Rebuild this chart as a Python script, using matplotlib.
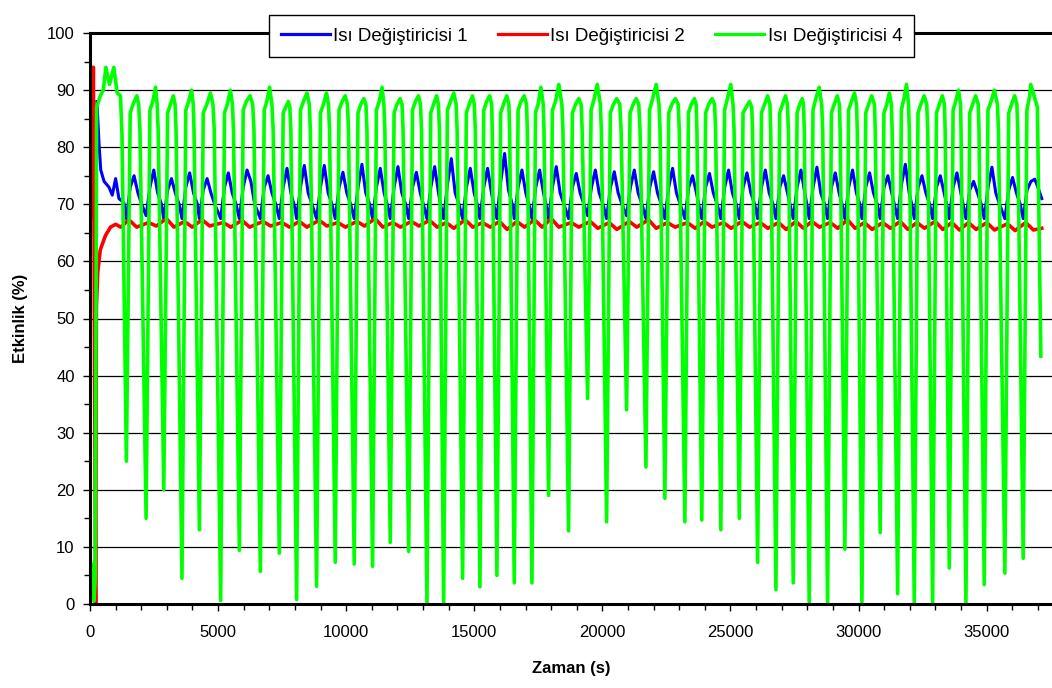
import matplotlib
matplotlib.use("Agg")
import matplotlib.pyplot as plt
from matplotlib.ticker import MultipleLocator

plt.rcParams['font.family'] = ['Liberation Sans', 'DejaVu Sans']

# Isı Değiştiricisi 4 (green) - one row per cycle: dip, rise, plateau, fall start
green_t = [0, 40, 100, 150, 200, 260, 400, 520, 620, 760, 930, 1060, 1190, 1250,
           1420, 1570, 1680, 1830, 1900, 1950,
           2190, 2340, 2450, 2560, 2620, 2660,
           2880, 3030, 3140, 3250, 3320, 3360,
           3590, 3740, 3850, 3960, 4030, 4060,
           4270, 4420, 4560, 4700, 4800, 4850,
           5100, 5250, 5360, 5480, 5560, 5600,
           5830, 5980, 6100, 6250, 6350, 6400,
           6650, 6800, 6900, 7010, 7100, 7150,
           7390, 7540, 7640, 7740, 7800, 7840,
           8065, 8215, 8330, 8470, 8560, 8600,
           8845, 8995, 9110, 9230, 9310, 9350,
           9573, 9720, 9840, 9960, 10050, 10090,
           10314, 10460, 10570, 10690, 10770, 10810,
           11030, 11180, 11290, 11400, 11470, 11510,
           11720, 11870, 11980, 12100, 12180, 12220,
           12440, 12590, 12700, 12820, 12900, 12940,
           13153, 13300, 13410, 13530, 13600, 13640,
           13803, 13950, 14070, 14200, 14290, 14330,
           14544, 14690, 14800, 14930, 15000, 15040,
           15220, 15370, 15480, 15600, 15680, 15700,
           15883, 16030, 16140, 16270, 16350, 16380,
           16560, 16710, 16820, 16950, 17040, 17070,
           17250, 17390, 17490, 17600, 17690, 17720,
           17900, 18050, 18170, 18300, 18420, 18460,
           18680, 18830, 18950, 19080, 19170, 19210,
           19424, 19560, 19680, 19800, 19920, 19960,
           20165, 20310, 20430, 20560, 20680, 20730,
           20945, 21080, 21200, 21320, 21420, 21470,
           21700, 21840, 21960, 22100, 22210, 22250,
           22440, 22590, 22710, 22850, 22960, 23000,
           23220, 23360, 23470, 23590, 23660, 23690,
           23880, 24030, 24150, 24280, 24380, 24420,
           24624, 24770, 24880, 25010, 25100, 25140,
           25344, 25490, 25610, 25740, 25830, 25860,
           26060, 26210, 26330, 26450, 26540, 26570,
           26774, 26920, 27030, 27150, 27220, 27260,
           27450, 27600, 27700, 27800, 27850, 27880,
           28074, 28220, 28330, 28460, 28560, 28600,
           28790, 28940, 29050, 29170, 29250, 29280,
           29465, 29610, 29720, 29840, 29920, 29950,
           30130, 30280, 30390, 30510, 30620, 30650,
           30843, 30990, 31100, 31200, 31280, 31310,
           31525, 31670, 31770, 31870, 31950, 31980,
           32175, 32320, 32430, 32560, 32660, 32700,
           32890, 33040, 33150, 33270, 33350, 33380,
           33540, 33690, 33790, 33900, 33980, 34000,
           34190, 34340, 34450, 34570, 34670, 34700,
           34905, 35050, 35170, 35300, 35420, 35460,
           35710, 35860, 35970, 36090, 36180, 36210,
           36426, 36570, 36680, 36720, 36850, 36980, 37115]
green_y = [2, 6, 7, 0.5, 4, 87, 89, 90, 94, 91, 94, 89.5, 89, 82,
           25, 86, 87.5, 89, 87.5, 83,
           15, 86.5, 88, 90.5, 87.5, 83,
           20, 86, 87.5, 89, 87.5, 83,
           4.5, 86.5, 88, 90, 87.5, 83,
           13, 86, 87.5, 89.5, 87.5, 83,
           0.6, 86, 87.5, 90, 87.5, 83,
           9.4, 86.5, 88, 89, 87.5, 83,
           5.7, 86.5, 88, 90.5, 87.5, 83,
           8.9, 86, 87, 88, 87, 83,
           0.8, 86.5, 88, 89.5, 87.5, 83,
           3.1, 86, 87.5, 89.5, 87.5, 83,
           7.3, 86.5, 88, 89, 87.5, 83,
           7, 86, 87.5, 88.5, 87.5, 83,
           6.6, 86.5, 88, 90.5, 87.5, 83,
           10.8, 86, 87.5, 88.5, 87.5, 83,
           9.2, 86.5, 88, 89, 87.5, 83,
           0, 86, 87.5, 89, 87.5, 83,
           0, 86.5, 88, 89.5, 87.5, 83,
           4.5, 86, 87.5, 89, 87.5, 83,
           3, 86.5, 88, 89, 87.5, 83,
           5, 86, 87.5, 89, 87.5, 83,
           3.7, 86.5, 88, 89, 87.5, 83,
           3.7, 86, 87.5, 90.5, 87.5, 83,
           19, 86.5, 88, 91, 87.5, 83,
           12.8, 86, 87.5, 88.5, 87.5, 83,
           36, 86.5, 88.5, 91, 87.5, 83,
           14.4, 86, 87.5, 88.5, 87.5, 83,
           34, 86, 87.5, 88.5, 87.5, 83,
           24, 86.5, 88.5, 91, 87.5, 83,
           18.5, 86, 87.5, 88.5, 87.5, 83,
           14.4, 86, 87.5, 88.5, 87.5, 83,
           14.7, 86, 87.5, 88.5, 87.5, 83,
           13, 86.5, 88.5, 91, 87.5, 83,
           15, 86, 87, 88, 87, 83,
           7.3, 86, 87.5, 89, 87.5, 83,
           2.5, 86, 87.5, 89, 87.5, 83,
           3.7, 86, 87.5, 88.5, 87.5, 83,
           0, 86.5, 88.5, 90.5, 87.5, 83,
           0, 86, 87.5, 89, 87.5, 83,
           9.6, 86.5, 88, 89.5, 87.5, 83,
           0, 86, 87.5, 89, 87.5, 83,
           12.5, 86, 87.5, 89.5, 87.5, 83,
           1.8, 86.5, 88.5, 91, 87.5, 83,
           0, 86, 87.5, 89, 87.5, 83,
           0, 86, 87.5, 89, 87.5, 83,
           6.3, 86.5, 88, 90, 87.5, 83,
           0, 86, 87.5, 89, 87.5, 83,
           3.4, 86.5, 88, 90, 87.5, 83,
           5.4, 86, 87.5, 89, 87.5, 83,
           8, 86.5, 89, 91, 89, 87, 43.4]

# Isı Değiştiricisi 1 (blue)
blue_t = [270, 360, 420, 550, 740, 870, 1000, 1130, 1320,
          1420, 1570, 1720, 1870, 2020,
          2190, 2340, 2490, 2640, 2790,
          2880, 3030, 3180, 3330, 3480,
          3590, 3740, 3890, 4040, 4190,
          4270, 4420, 4570, 4720, 4870,
          5100, 5250, 5400, 5550, 5700,
          5830, 5980, 6130, 6280, 6430,
          6650, 6800, 6950, 7100, 7250,
          7390, 7540, 7690, 7840, 7990,
          8065, 8215, 8365, 8515, 8665,
          8845, 8995, 9145, 9295, 9445,
          9573, 9723, 9873, 10023, 10173,
          10314, 10464, 10614, 10764, 10914,
          11030, 11180, 11330, 11480, 11630,
          11720, 11870, 12020, 12170, 12320,
          12440, 12590, 12740, 12890, 13040,
          13153, 13303, 13453, 13603, 13703,
          13803, 13953, 14103, 14253, 14403,
          14544, 14694, 14844, 14994, 15144,
          15220, 15370, 15520, 15670, 15780,
          15883, 16033, 16183, 16333, 16483,
          16560, 16710, 16860, 17010, 17160,
          17250, 17400, 17550, 17700, 17800,
          17900, 18050, 18200, 18350, 18500,
          18680, 18830, 18980, 19130, 19280,
          19424, 19574, 19724, 19874, 20024,
          20165, 20315, 20465, 20615, 20765,
          20945, 21095, 21245, 21395, 21545,
          21700, 21850, 22000, 22150, 22300,
          22440, 22590, 22740, 22890, 23040,
          23220, 23370, 23520, 23670, 23780,
          23880, 24030, 24180, 24330, 24480,
          24624, 24774, 24924, 25074, 25224,
          25344, 25494, 25644, 25794, 25944,
          26060, 26210, 26360, 26510, 26660,
          26774, 26924, 27074, 27224, 27350,
          27450, 27600, 27750, 27900, 28000,
          28074, 28224, 28374, 28524, 28674,
          28790, 28940, 29090, 29240, 29380,
          29465, 29615, 29765, 29915, 30050,
          30130, 30280, 30430, 30580, 30730,
          30843, 30993, 31143, 31293, 31420,
          31525, 31675, 31825, 31975, 32100,
          32175, 32325, 32475, 32625, 32775,
          32890, 33040, 33190, 33340, 33460,
          33540, 33690, 33840, 33990, 34100,
          34190, 34340, 34490, 34640, 34790,
          34905, 35055, 35205, 35355, 35505,
          35710, 35860, 36010, 36160, 36310,
          36426, 36576, 36726, 36876, 37000, 37150]
blue_y = [88, 80, 76, 74, 73, 71.6, 74.5, 71, 70.3,
          67.5, 73, 75, 72, 70,
          68, 73, 76, 72, 70,
          67.5, 72.5, 74.5, 72, 70,
          67.5, 73, 75.5, 72, 70,
          67.5, 72.5, 74.5, 72, 70,
          67.5, 73, 75.5, 72, 70,
          67.5, 73, 76, 74, 70,
          67.5, 73, 75, 72, 70,
          67.5, 73, 76.3, 72, 69.5,
          67.5, 73, 76.8, 72, 70,
          67.5, 73, 76.8, 72, 70,
          67.5, 73, 75.6, 72, 70,
          67.5, 73, 77, 72, 70,
          67.5, 73, 76.3, 72, 69.5,
          67.5, 73, 76.6, 72, 70,
          67.5, 73, 75.6, 72, 69.5,
          67.5, 73, 76.6, 72, 69.5,
          67.5, 73.5, 78, 72, 70,
          67.5, 73, 76.3, 72, 69.5,
          67.5, 73, 76.3, 72, 69.5,
          67.5, 74, 78.9, 72.5, 70,
          67.5, 73, 76, 72, 69.5,
          67.5, 73, 76, 72, 70,
          67.5, 73, 76.6, 72, 70,
          67.5, 73, 75.4, 72, 70,
          68, 73, 76, 72, 70,
          67.5, 73, 75.7, 72, 70,
          68, 73, 76, 72, 70,
          67.5, 73, 75.7, 72, 70,
          67.5, 73, 76.3, 72, 70,
          67.5, 73, 75, 72, 69.5,
          67.5, 73, 75.4, 72, 70,
          67.5, 73, 76, 72, 70,
          67.5, 73, 75.5, 72, 70,
          67.5, 73, 76, 72, 70,
          67.5, 73, 75, 72, 69.5,
          67.5, 73, 76, 72, 69.5,
          67.5, 73, 76.5, 72, 70,
          67.5, 73, 75.5, 72, 69.5,
          67.5, 73, 76, 72, 70,
          67.5, 73, 75.5, 72, 70,
          67.5, 73, 75, 72, 69.5,
          67.5, 73.5, 77, 72, 69.5,
          67.5, 73, 75, 72, 70,
          67.5, 73, 75, 72, 69.5,
          67.5, 73, 75.5, 72, 69.5,
          67.5, 72.5, 74, 72, 70,
          67.5, 73, 76.5, 72, 70,
          67.5, 72.5, 74.7, 72, 70,
          67.5, 72.5, 74, 74.4, 73, 71]

# Isı Değiştiricisi 2 (red)
red_t = [0, 30, 60, 100, 130, 220, 250, 300, 400, 600, 800, 1000, 1200,
         1520, 1820, 2290, 2590, 2980, 3280, 3690, 3990, 4370, 4670,
         5200, 5500, 5930, 6230, 6750, 7050, 7490, 7790, 8165, 8465,
         8945, 9245, 9673, 9973, 10414, 10714, 11130, 11430, 11820, 12120,
         12540, 12840, 13253, 13553, 13903, 14203, 14644, 14944, 15320, 15620,
         15983, 16283, 16660, 16960, 17350, 17650, 18000, 18300, 18780, 19080,
         19524, 19824, 20265, 20565, 21045, 21345, 21800, 22100, 22540, 22840,
         23320, 23620, 23980, 24280, 24724, 25024, 25444, 25744, 26160, 26460,
         26874, 27174, 27550, 27850, 28174, 28474, 28890, 29190, 29565, 29865,
         30230, 30530, 30943, 31243, 31625, 31925, 32275, 32575, 32990, 33290,
         33640, 33940, 34290, 34590, 35005, 35305, 35810, 36110, 36526, 36826,
         37150]
red_y = [66, 70, 75, 71, 94, 0, 52, 58, 62, 64.5, 66, 66.5, 66,
         67.3, 66, 66.8, 66.2, 67.5, 66, 67, 66, 67.3, 66.2,
         66.8, 66, 67.2, 66, 67, 66.2, 66.8, 66, 67, 66,
         67.2, 66.2, 66.8, 66, 67, 66.2, 67.5, 66, 66.8, 66,
         67, 66.2, 67.2, 66, 66.8, 65.8, 67.3, 66, 66.8, 66,
         67, 65.6, 67, 66, 67.3, 66, 67.5, 66, 66.8, 66,
         67, 65.8, 66.8, 65.6, 67, 66, 67.3, 65.8, 66.8, 66,
         66.8, 65.8, 67, 66, 66.8, 65.8, 67, 66, 66.8, 65.8,
         66.8, 65.6, 67, 65.8, 67, 66, 66.8, 65.8, 67.3, 65.8,
         66.8, 65.6, 66.8, 65.8, 67, 65.6, 66.8, 65.8, 67, 65.6,
         66.8, 65.5, 66.8, 65.6, 66.8, 65.5, 66.6, 65.4, 66.8, 65.5,
         65.8]

fig = plt.figure(figsize=(10.52, 6.88), dpi=100)
ax = fig.add_axes([90 / 1052, 1 - 604 / 688, 962 / 1052, 571 / 688])

ax.plot(blue_t, blue_y, color='#0000ff', lw=2.2, label='Isı Değiştiricisi 1')
ax.plot(red_t, red_y, color='#ff0000', lw=2.6, label='Isı Değiştiricisi 2')
ax.plot(green_t, green_y, color='#00ff00', lw=2.6, label='Isı Değiştiricisi 4')

ax.set_xlim(0, 37550)
ax.set_ylim(0, 100)
ax.xaxis.set_major_locator(MultipleLocator(5000))
ax.xaxis.set_minor_locator(MultipleLocator(1000))
ax.yaxis.set_major_locator(MultipleLocator(10))
ax.yaxis.set_minor_locator(MultipleLocator(5))
ax.yaxis.grid(True, which='major', color='black', lw=0.9)
ax.set_axisbelow(True)

for s in ['left', 'bottom', 'top']:
    ax.spines[s].set_linewidth(2.2)
    ax.spines[s].set_color('black')
ax.spines['right'].set_visible(False)

ax.tick_params(axis='both', which='both', direction='out', color='black', width=1)
ax.tick_params(axis='both', which='major', length=5, labelsize=12)
ax.tick_params(axis='both', which='minor', length=4)
ax.tick_params(axis='x', which='major', pad=10)
ax.tick_params(axis='y', which='major', pad=6)
ax.tick_params(top=False, right=False, which='both')

ax.set_xlabel('Zaman (s)', fontsize=12, fontweight='bold', labelpad=15)
ax.set_ylabel('Etkinlik (%)', fontsize=12, fontweight='bold', labelpad=14)

leg = fig.legend(loc='center', bbox_to_anchor=(591.5 / 1052, 1 - 36 / 688),
                 ncol=3, fontsize=13.5, frameon=True, fancybox=False,
                 edgecolor='black', framealpha=1, borderpad=0.65,
                 handlelength=2.6, handletextpad=0.2, columnspacing=1.6)
leg.get_frame().set_linewidth(1.0)
for line in leg.get_lines():
    line.set_linewidth(2.3)

fig.savefig('out.png', dpi=100)
